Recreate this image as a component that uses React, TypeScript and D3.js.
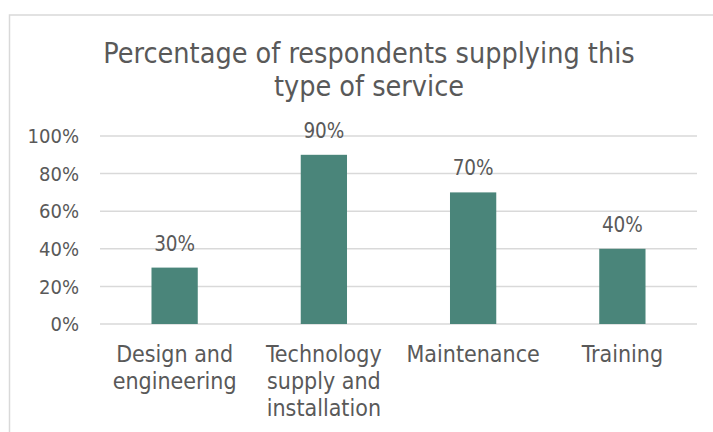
import React from "react";
import * as d3 from "d3";

const categories: string[][] = [
  ["Design and", "engineering"],
  ["Technology", "supply and", "installation"],
  ["Maintenance"],
  ["Training"],
];
const values: number[] = [0.3, 0.9, 0.7, 0.4];
const yTicks: number[] = [0, 0.2, 0.4, 0.6, 0.8, 1.0];
const titleLines: string[] = ["Percentage of respondents supplying this", "type of service"];

const W = 713;
const H = 432;
const FONT = "'DejaVu Sans Condensed', 'DejaVu Sans', sans-serif";
const TEXT = "#595959";
const GRID = "#d9d9d9";
const BAR = "#4a857a";

export default function App() {
  const left = 100;
  const right = 697;
  const x = d3
    .scaleBand<number>()
    .domain(values.map((_, i) => i))
    .range([left, right])
    .paddingInner(0.69)
    .paddingOuter(0.345);
  const y = d3.scaleLinear().domain([0, 1]).range([324, 136]);
  const fmt = d3.format(".0%");

  return (
    <svg
      width={W}
      height={H}
      style={{ position: "absolute", left: 0, top: 0, background: "#fff" }}
      fontFamily={FONT}
    >
      <rect x={0} y={0} width={W} height={H} fill="#fff" />
      <rect x={9.5} y={15} width={730} height={440} fill="#fff" stroke={GRID} strokeWidth={1.5} />
      {titleLines.map((t, i) => (
        <text
          key={i}
          x={369}
          y={63 + i * 33}
          textAnchor="middle"
          fontSize={28.5}
          fill={TEXT}
          style={{ fontStretch: "condensed" }}
        >
          {t}
        </text>
      ))}
      {yTicks.map((t) => (
        <g key={t}>
          <line x1={left} x2={right} y1={y(t)} y2={y(t)} stroke={GRID} strokeWidth={1.5} />
          <text
            x={79}
            y={y(t)}
            dy="0.36em"
            textAnchor="end"
            fontSize={20}
            fill={TEXT}
            style={{ fontStretch: "condensed" }}
          >
            {fmt(t)}
          </text>
        </g>
      ))}
      {values.map((v, i) => (
        <g key={i}>
          <rect
            x={x(i)!}
            y={y(v)}
            width={x.bandwidth()}
            height={y(0) - y(v)}
            fill={BAR}
          />
          <text
            x={x(i)! + x.bandwidth() / 2}
            y={y(v) - 17}
            textAnchor="middle"
            fontSize={20.5}
            fill={TEXT}
            style={{ fontStretch: "condensed" }}
          >
            {fmt(v)}
          </text>
          {categories[i].map((line, j) => (
            <text
              key={j}
              x={x(i)! + x.bandwidth() / 2}
              y={362 + j * 27}
              textAnchor="middle"
              fontSize={23}
              fill={TEXT}
              style={{ fontStretch: "condensed" }}
            >
              {line}
            </text>
          ))}
        </g>
      ))}
    </svg>
  );
}
